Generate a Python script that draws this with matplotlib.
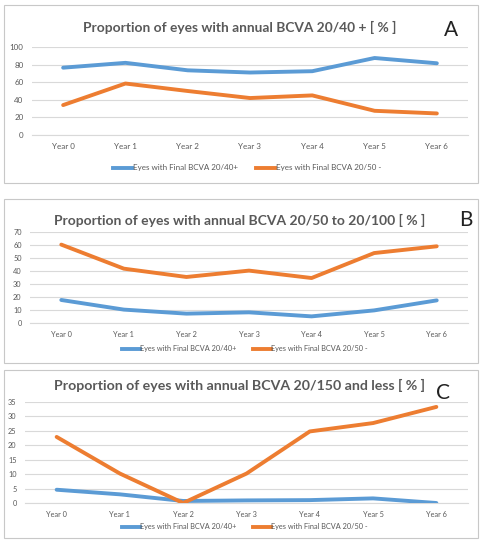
import matplotlib
matplotlib.use("Agg")
import matplotlib.pyplot as plt
from matplotlib.patches import Rectangle
from matplotlib.lines import Line2D

plt.rcParams['font.family'] = ['Lato', 'DejaVu Sans']

years = ["Year 0", "Year 1", "Year 2", "Year 3", "Year 4", "Year 5", "Year 6"]
series_names = ["Eyes with Final BCVA 20/40+", "Eyes with Final BCVA 20/50 -"]

a_good = [76.5, 82, 73.5, 71, 72.5, 87.5, 81.5]
a_poor = [34, 58.5, 50, 42, 45, 27.5, 24.5]

b_good = [17.7, 10.3, 7.2, 8.2, 5.1, 9.7, 17.4]
b_poor = [60.3, 41.8, 35.4, 40.3, 34.6, 53.8, 59]

c_good = [4.6, 3.0, 0.7, 0.9, 1.0, 1.6, 0]
c_poor = [22.9, 10.2, 0, 10.2, 24.8, 27.7, 33.3]

titles = ["Proportion of eyes with annual BCVA 20/40 + [ % ]",
          "Proportion of eyes with annual BCVA 20/50 to 20/100 [ % ]",
          "Proportion of eyes with annual BCVA 20/150 and less [ % ]"]
letters = ["A", "B", "C"]

W, H = 483, 541
fig = plt.figure(figsize=(W / 100, H / 100), dpi=100)
fig.patch.set_facecolor("white")

BLUE = "#5B9BD5"
ORANGE = "#ED7D31"
TXT = "#595959"
GRID = "#D9D9D9"


def fx(x):
    return x / W


def fy(y):
    return 1 - y / H


panels = [
    dict(box=(4, 5, 478, 183), ax=(32, 468, 47, 135), ymax=100, step=20,
         ty=27, tsize=9.9, lpos=(451, 30), legy=168, legx=247, data=(a_good, a_poor), fs=5.8),
    dict(box=(4, 199, 478, 363), ax=(30, 468, 232, 323), ymax=70, step=10,
         ty=220, tsize=10.0, lpos=(466, 220), legy=349, legx=245, data=(b_good, b_poor), fs=5.3),
    dict(box=(4, 370, 478, 538), ax=(25, 468, 402, 503), ymax=35, step=5,
         ty=385, tsize=10.2, lpos=(443, 393), legy=527, legx=245, data=(c_good, c_poor), fs=5.3),
]

for i, p in enumerate(panels):
    x0, y0, x1, y1 = p['box']
    fig.patches.append(Rectangle((fx(x0), fy(y1)), fx(x1 - x0), (y1 - y0) / H,
                                 transform=fig.transFigure, facecolor="none",
                                 edgecolor="#C8C8C8", linewidth=0.8, zorder=-5))
    l, r, t, b = p['ax']
    ax = fig.add_axes([fx(l), fy(b), fx(r - l), (b - t) / H])
    ax.set_facecolor("none")
    ax.set_zorder(2)
    xs = list(range(len(years)))
    good, poor = p['data']
    ax.plot(xs, good, color=BLUE, lw=2.8, solid_capstyle='round', solid_joinstyle='round', zorder=3)
    ax.plot(xs, poor, color=ORANGE, lw=2.8, solid_capstyle='round', solid_joinstyle='round', zorder=3)
    ax.set_xlim(-0.5, len(years) - 0.5)
    ax.set_ylim(0, p['ymax'])
    ax.set_yticks(range(0, p['ymax'] + 1, p['step']))
    ax.set_xticks(xs)
    ax.set_xticklabels(years)
    ax.grid(axis='y', color=GRID, lw=0.8)
    ax.set_axisbelow(True)
    for s in ['left', 'right', 'top']:
        ax.spines[s].set_visible(False)
    ax.spines['bottom'].set_color(GRID)
    ax.spines['bottom'].set_linewidth(0.8)
    ax.tick_params(axis='both', length=0, labelsize=p['fs'], labelcolor=TXT)
    ax.tick_params(axis='y', pad=6)
    ax.tick_params(axis='x', pad=6)

    fig.text(fx(240), fy(p['ty']), titles[i], ha='center', va='center',
             fontsize=p['tsize'], fontweight='bold', color=TXT)
    fig.text(fx(p['lpos'][0]), fy(p['lpos'][1]), letters[i], ha='center', va='center',
             fontsize=15, fontweight='normal', color="#222222")

    handles = [Line2D([], [], color=BLUE, lw=2.8), Line2D([], [], color=ORANGE, lw=2.8)]
    fig.legend(handles, series_names, loc='center', bbox_to_anchor=(fx(p['legx']), fy(p['legy'])),
               ncol=2, frameon=False, fontsize=p['fs'], labelcolor=TXT,
               handlelength=2.4, handletextpad=0.1, columnspacing=2.2)

fig.savefig("out.png", dpi=100, facecolor="white")
